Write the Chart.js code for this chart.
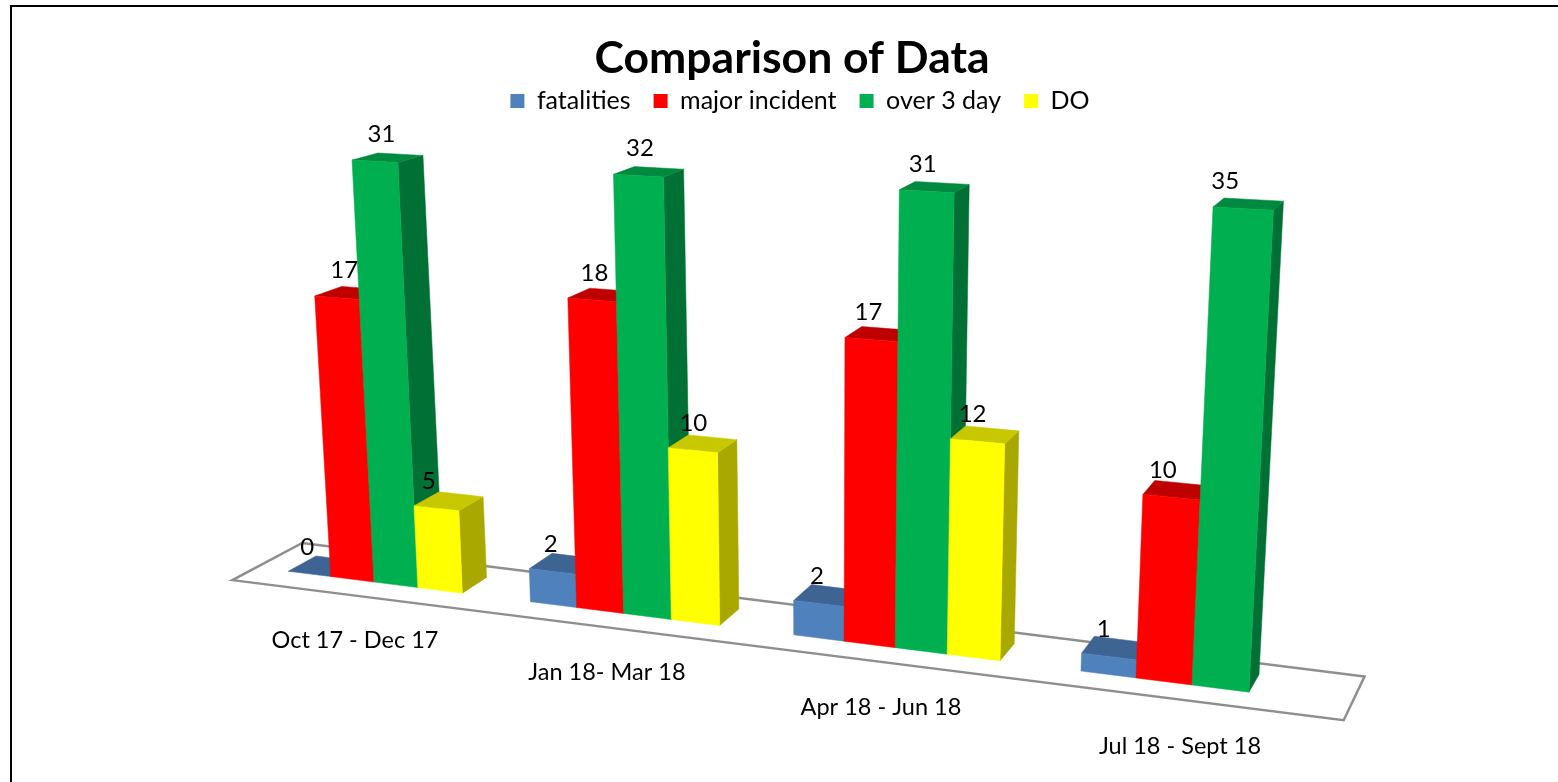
<!DOCTYPE html>
<html lang="en">
<head>
    <meta charset="UTF-8">
    <title>Comparison of Data</title>
    <style>
        html, body { margin: 0; padding: 0; background: #ffffff; }
        #frame {
            position: absolute;
            left: 0; top: 0;
            width: 1558px; height: 782px;
            overflow: hidden;
        }
        #border {
            position: absolute;
            left: 10px; top: 5px;
            width: 1560px; height: 790px;
            border-left: 2px solid #000000;
            border-top: 2px solid #000000;
            pointer-events: none;
        }
    </style>
</head>
<body>
    <div id="frame">
        <canvas id="grafico" width="1558" height="782"></canvas>
        <div id="border"></div>
    </div>

    <script src="https://cdn.jsdelivr.net/npm/chart.js"></script>
    <script>
        // values as printed on the bars, the axis stops at 25 so the green ones get cut off
        var periods = ['Oct 17 - Dec 17', 'Jan 18- Mar 18', 'Apr 18 - Jun 18', 'Jul 18 - Sept 18'];
        var fatalities = [0, 2, 2, 1];
        var majorIncident = [17, 18, 17, 10];
        var over3Day = [31, 32, 31, 35];
        var dangerousOcc = [5, 10, 12, null];
        var axisMax = 25;

        var FONT = 'Lato, Carlito, sans-serif';

        // face colours of each series: front, top, side
        var faces = [
            { front: '#4F81BD', top: '#3E6494', side: '#35587F' },
            { front: '#FF0000', top: '#BF0000', side: '#A00000' },
            { front: '#00B050', top: '#008A3F', side: '#007034' },
            { front: '#FFFF00', top: '#C8C800', side: '#A8A800' }
        ];

        // where the flat plot goes on screen: centres of first and last slot, at zero and at the axis top
        var quad = { bl: [374, 582], br: [1192, 685], tr: [1213, 207], tl: [352, 160] };

        // a few printed values sit off the regular spot (series,category -> px)
        var labelNudge = { '0,0': -10, '0,1': -5, '3,0': -13, '2,3': -8, '0,3': 2 };

        // square to quad perspective map
        function makeMapping(q) {
            var dx1 = q.br[0] - q.tr[0], dy1 = q.br[1] - q.tr[1];
            var dx2 = q.tl[0] - q.tr[0], dy2 = q.tl[1] - q.tr[1];
            var sx = q.bl[0] - q.br[0] + q.tr[0] - q.tl[0];
            var sy = q.bl[1] - q.br[1] + q.tr[1] - q.tl[1];
            var den = dx1 * dy2 - dx2 * dy1;
            var g = (sx * dy2 - dx2 * sy) / den;
            var h = (dx1 * sy - sx * dy1) / den;
            var a = q.br[0] - q.bl[0] + g * q.br[0];
            var b = q.tl[0] - q.bl[0] + h * q.tl[0];
            var d = q.br[1] - q.bl[1] + g * q.br[1];
            var e = q.tl[1] - q.bl[1] + h * q.tl[1];
            return function (s, t) {
                var w = g * s + h * t + 1;
                return [(a * s + b * t + q.bl[0]) / w, (d * s + e * t + q.bl[1]) / w];
            };
        }
        var mapPlane = makeMapping(quad);

        // flat chart pixel + depth -> screen point
        function project(chart, px, py, depth) {
            var area = chart.chartArea;
            var slot = (area.right - area.left) / 4;
            var s = (px - area.left - slot / 2) / (slot * 3);
            var t = (area.bottom - py) / (area.bottom - area.top);
            var p = mapPlane(s, t);
            var ox = 26 - 15 * s;
            var oy = -(15.5 + 2 * s) + 8.5 * t;
            return [p[0] + ox * depth, p[1] + oy * depth];
        }

        function fillPoly(ctx, pts, color) {
            ctx.beginPath();
            ctx.moveTo(pts[0][0], pts[0][1]);
            for (var i = 1; i < pts.length; i++) ctx.lineTo(pts[i][0], pts[i][1]);
            ctx.closePath();
            ctx.fillStyle = color;
            ctx.fill();
            ctx.strokeStyle = color;
            ctx.lineWidth = 0.5;
            ctx.stroke();
        }

        var perspectivePlugin = {
            id: 'perspective',
            // title and legend are off the canvas centre in the original
            afterLayout: function (chart) {
                chart.titleBlock.left += 13;
                chart.titleBlock.right += 13;
                chart.legend.left += 21;
                chart.legend.right += 21;
                chart.legend.top -= 20;
                chart.legend.bottom -= 20;
            },
            // floor, category labels, then the boxes left to right so each covers its neighbour's side
            beforeDatasetsDraw: function (chart) {
                var ctx = chart.ctx, area = chart.chartArea;
                var a = project(chart, area.left, area.bottom, -0.85);
                var b = project(chart, area.right, area.bottom, -0.85);
                var c = project(chart, area.right, area.bottom, 1.6);
                var d = project(chart, area.left, area.bottom, 1.6);
                ctx.save();
                ctx.beginPath();
                ctx.moveTo(a[0], a[1]);
                ctx.lineTo(b[0], b[1]);
                ctx.lineTo(c[0], c[1]);
                ctx.lineTo(d[0], d[1]);
                ctx.closePath();
                ctx.strokeStyle = '#8E8E8E';
                ctx.lineWidth = 2.5;
                ctx.stroke();

                ctx.fillStyle = '#000000';
                ctx.font = '23.5px ' + FONT;
                ctx.textAlign = 'center';
                ctx.textBaseline = 'middle';
                periods.forEach(function (label, i) {
                    var p = project(chart, chart.scales.x.getPixelForTick(i), area.bottom, 0);
                    ctx.fillText(label, p[0] - 19 + 7 * i / 3, p[1] + 58 + 3 * i / 3);
                });

                chart.data.datasets.forEach(function (ds, k) {
                    var col = faces[k];
                    chart.getDatasetMeta(k).data.forEach(function (bar, i) {
                        if (ds.data[i] === null) return;
                        var l = bar.x - bar.width / 2, r = bar.x + bar.width / 2;
                        var top = Math.max(bar.y, area.top), base = bar.base;
                        var p = function (x, y, dp) { return project(chart, x, y, dp); };
                        fillPoly(ctx, [p(r, base, 0), p(r, base, 1), p(r, top, 1), p(r, top, 0)], col.side);
                        fillPoly(ctx, [p(l, top, 0), p(r, top, 0), p(r, top, 1), p(l, top, 1)], col.top);
                        if (ds.data[i] > 0) fillPoly(ctx, [p(l, base, 0), p(r, base, 0), p(r, top, 0), p(l, top, 0)], col.front);
                    });
                });
                ctx.restore();
            },
            // the flat rectangles are replaced by the boxes above
            beforeDatasetDraw: function () {
                return false;
            },
            afterDatasetsDraw: function (chart) {
                var ctx = chart.ctx, area = chart.chartArea;
                ctx.save();
                ctx.fillStyle = '#000000';
                ctx.font = '24px ' + FONT;
                ctx.textAlign = 'center';
                ctx.textBaseline = 'middle';
                chart.data.datasets.forEach(function (ds, k) {
                    chart.getDatasetMeta(k).data.forEach(function (bar, i) {
                        if (ds.data[i] === null) return;
                        var p = project(chart, bar.x, Math.max(bar.y, area.top), 0);
                        var shift = 7 - 17 * (p[0] - 350) / 900 + (labelNudge[k + ',' + i] || 0);
                        ctx.fillText(String(ds.data[i]), p[0] + shift, p[1] - 27);
                    });
                });
                ctx.restore();
            }
        };

        var ctx = document.getElementById('grafico').getContext('2d');
        var meuGrafico = new Chart(ctx, {
            type: 'bar',
            data: {
                labels: periods,
                datasets: [
                    { label: 'fatalities', data: fatalities, backgroundColor: faces[0].front },
                    { label: 'major incident', data: majorIncident, backgroundColor: faces[1].front },
                    { label: 'over 3 day', data: over3Day, backgroundColor: faces[2].front },
                    { label: 'DO', data: dangerousOcc, backgroundColor: faces[3].front }
                ]
            },
            options: {
                responsive: false,
                animation: false,
                layout: { padding: { top: 32, left: 100, right: 100, bottom: 40 } },
                datasets: { bar: { categoryPercentage: 4 / 5.5, barPercentage: 1 } },
                scales: {
                    x: { display: false },
                    y: { display: false, min: 0, max: axisMax }
                },
                plugins: {
                    title: {
                        display: true,
                        text: 'Comparison of Data',
                        color: '#000000',
                        font: { family: FONT, size: 44.5, weight: 'bold' },
                        padding: { top: 0, bottom: 0 }
                    },
                    legend: {
                        display: true,
                        position: 'top',
                        labels: {
                            color: '#000000',
                            font: { family: FONT, size: 25 },
                            boxWidth: 14,
                            boxHeight: 14,
                            padding: 23
                        }
                    },
                    tooltip: { enabled: false }
                }
            },
            plugins: [perspectivePlugin]
        });
    </script>
</body>
</html>
